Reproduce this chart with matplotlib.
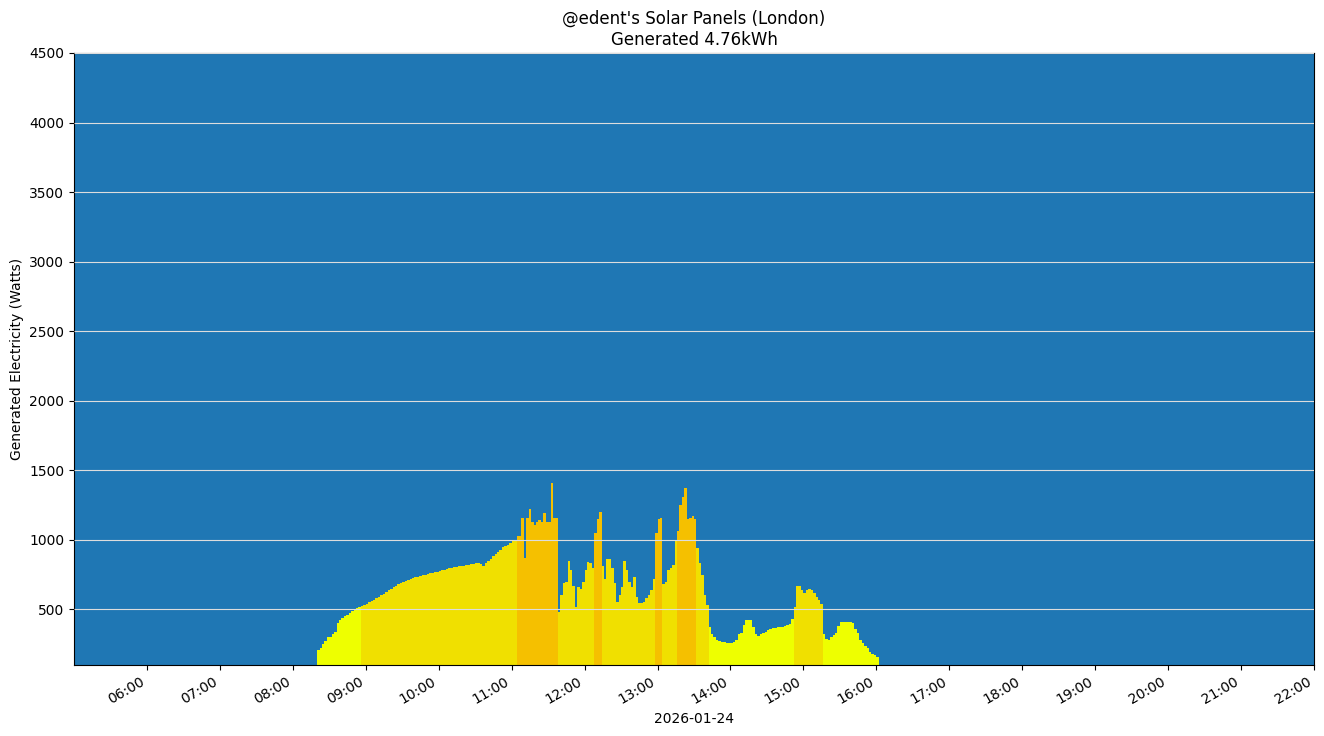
import matplotlib
matplotlib.use("Agg")
import matplotlib.pyplot as plt
import matplotlib.dates as mdates
import numpy as np
import datetime as dt

start = dt.datetime(2026, 1, 24, 8, 20)
step_min = 2
watts = [
    205,220,250,270,300,300,320,340,400,420,440,450,460,475,490,500,510,520,
    525,530,540,550,560,570,580,590,602,614,626,638,650,660,670,680,690,700,706,712,718,724,
    730,735,740,745,750,755,759,763,767,771,775,780,785,790,795,800,803,806,809,812,815,818,
    821,824,827,830,832,825,815,830,845,865,885,900,915,930,945,955,965,975,990,1000,
    1030,1030,1160,870,1160,1220,1130,1110,1130,1140,1130,1190,1130,1130,1410,1160,1160,
    480,600,690,700,845,780,670,520,660,650,700,780,840,830,800,
    1050,1150,1200,
    815,720,865,865,800,690,550,600,660,845,780,700,660,730,590,545,545,550,580,600,640,720,
    1050,1150,1160,
    680,700,780,800,820,990,
    1060,1250,1310,1370,1150,1160,1170,1150,
    940,830,745,600,530,
    370,320,300,280,270,265,262,260,260,260,265,280,320,330,385,420,425,420,370,320,305,320,
    330,340,355,360,363,367,370,375,375,380,385,395,430,
    515,670,670,640,620,640,645,640,620,590,565,540,
    320,290,280,300,315,330,380,410,410,410,410,410,400,357,330,280,260,235,220,195,180,170,160,
]
seg_lengths = [18, 64, 17, 15, 3, 22, 3, 6, 8, 5, 35, 12, 23]
seg_levels = [0, 1, 2, 1, 2, 1, 2, 1, 2, 1, 0, 1, 0]
level_colors = ["#eeff00", "#f0e000", "#f5c000"]

levels = np.repeat(seg_levels, seg_lengths)
times = [start + dt.timedelta(minutes=step_min * i) for i in range(len(watts))]
colors = [level_colors[levels[min(i, len(levels) - 1)]] for i in range(len(watts))]

fig = plt.figure(figsize=(13.24, 7.36), dpi=100)
ax = fig.add_axes([74/1324, 1 - 665/736, (1314-74)/1324, (665-53)/736])
ax.set_facecolor("#1f77b4")
ax.bar(times, watts, width=step_min/1440, align="edge", color=colors, linewidth=0, zorder=2)
ax.set_ylim(100, 4500)
ax.set_yticks(range(500, 4501, 500))
ax.set_xlim(dt.datetime(2026, 1, 24, 5, 0), dt.datetime(2026, 1, 24, 22, 0))
ax.xaxis.set_major_locator(mdates.HourLocator(byhour=range(6, 23)))
ax.xaxis.set_major_formatter(mdates.DateFormatter("%H:%M"))
ax.grid(axis="y", color="#dddddd", linewidth=0.8, zorder=1)
ax.set_axisbelow(False)
for lbl in ax.get_xticklabels():
    lbl.set_rotation(30)
    lbl.set_ha("right")
ax.set_xlabel("2026-01-24")
ax.set_ylabel("Generated Electricity (Watts)")
ax.set_title("@edent's Solar Panels (London)\nGenerated 4.76kWh")
fig.savefig("out.png", dpi=100)
